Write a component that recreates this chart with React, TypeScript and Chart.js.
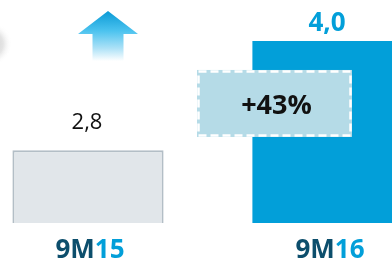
import React, { useEffect, useRef } from "react";
import { Chart, registerables } from "chart.js";

Chart.register(...registerables);

// ---- data ----
const categories = ["9M15", "9M16"];
const labelPrefix = ["9M", "9M"];
const labelSuffix = ["15", "16"];
const values = [2.8, 4.0];
const valueLabels = ["2,8", "4,0"];
const changeLabel = "+43%";
const yMin = 2;
const yMax = 4.45;

const DARK = "#0c4e6c";
const BLUE = "#029fd9";
const FONT = "'Open Sans', 'Liberation Sans', sans-serif";

const decorPlugin = {
  id: "decor",
  afterDatasetsDraw(chart: any) {
    const ctx: CanvasRenderingContext2D = chart.ctx;
    const meta = chart.getDatasetMeta(0);
    const b1 = meta.data[0];
    const b2 = meta.data[1];
    const cx1 = b1.x;
    const cx2 = b2.x;

    ctx.save();

    // faint circle edge at left
    const gx = cx1 - 98;
    const gy = 44;
    const g = ctx.createRadialGradient(gx, gy, 0, gx, gy, 22);
    g.addColorStop(0, "rgba(150,150,150,0.55)");
    g.addColorStop(0.6, "rgba(180,180,180,0.35)");
    g.addColorStop(1, "rgba(255,255,255,0)");
    ctx.fillStyle = g;
    ctx.beginPath();
    ctx.arc(gx, gy, 22, 0, Math.PI * 2);
    ctx.fill();

    // up arrow
    const ax = cx1 + 20;
    const tipY = 11;
    const headY = 34;
    const botY = 61;
    const ag = ctx.createLinearGradient(0, tipY, 0, botY);
    ag.addColorStop(0, "#0a9ad6");
    ag.addColorStop(0.4, "#4cc3ef");
    ag.addColorStop(0.75, "#aee2f7");
    ag.addColorStop(1, "#ffffff");
    ctx.fillStyle = ag;
    ctx.beginPath();
    ctx.moveTo(ax, tipY);
    ctx.lineTo(ax + 30, headY);
    ctx.lineTo(ax + 15.5, headY);
    ctx.lineTo(ax + 15.5, botY);
    ctx.lineTo(ax - 15.5, botY);
    ctx.lineTo(ax - 15.5, headY);
    ctx.lineTo(ax - 30, headY);
    ctx.closePath();
    ctx.fill();

    // value labels
    ctx.textAlign = "center";
    ctx.textBaseline = "alphabetic";
    ctx.fillStyle = "#111111";
    ctx.font = `400 22px ${FONT}`;
    ctx.fillText(valueLabels[0], cx1 - 1, b1.y - 21);
    ctx.fillStyle = BLUE;
    ctx.font = `700 26px ${FONT}`;
    ctx.fillText(valueLabels[1], cx2 - 1, b2.y - 10);

    // change box
    const bx0 = cx2 - 131;
    const bx1 = cx2 + 24;
    const by0 = b2.y + 29;
    const by1 = b2.y + 96;
    ctx.fillStyle = "#b5dbe7";
    ctx.fillRect(bx0, by0, bx1 - bx0, by1 - by0);
    ctx.strokeStyle = "#ffffff";
    ctx.lineWidth = 2.5;
    ctx.setLineDash([8, 4]);
    ctx.strokeRect(bx0 + 1.5, by0 + 1.5, bx1 - bx0 - 3, by1 - by0 - 3);
    ctx.setLineDash([]);
    ctx.fillStyle = "#111111";
    ctx.font = `700 27px ${FONT}`;
    ctx.textBaseline = "middle";
    ctx.fillText(changeLabel, (bx0 + bx1) / 2 + 2, (by0 + by1) / 2 + 3);

    // category labels (two-colour)
    ctx.textBaseline = "alphabetic";
    ctx.textAlign = "left";
    ctx.font = `700 26px ${FONT}`;
    const xs = [cx1 + 2, cx2 + 2];
    for (let i = 0; i < categories.length; i++) {
      const w1 = ctx.measureText(labelPrefix[i]).width;
      const w2 = ctx.measureText(labelSuffix[i]).width;
      const start = xs[i] - (w1 + w2) / 2;
      ctx.fillStyle = DARK;
      ctx.fillText(labelPrefix[i], start, 258);
      ctx.fillStyle = BLUE;
      ctx.fillText(labelSuffix[i], start + w1, 258);
    }

    ctx.restore();
  },
};

export default function App() {
  const ref = useRef<HTMLCanvasElement | null>(null);

  useEffect(() => {
    if (!ref.current) return;
    const chart = new Chart(ref.current, {
      type: "bar",
      data: {
        labels: categories,
        datasets: [
          {
            data: values,
            backgroundColor: ["#e1e6ea", BLUE],
            borderColor: ["#b3bec6", BLUE],
            borderWidth: [2, 0],
            borderSkipped: false,
            categoryPercentage: 1,
            barPercentage: 0.63,
          },
        ],
      },
      options: {
        responsive: false,
        animation: false,
        layout: { padding: { top: 0, bottom: 38, left: 0, right: 0 } },
        plugins: {
          legend: { display: false },
          tooltip: { enabled: false },
        },
        scales: {
          x: { display: false, offset: true },
          y: { display: false, min: yMin, max: yMax },
        },
      },
      plugins: [decorPlugin],
    });
    return () => chart.destroy();
  }, []);

  return (
    <div
      style={{
        position: "fixed",
        left: 0,
        top: 0,
        width: 392,
        height: 261,
        overflow: "hidden",
        background: "#ffffff",
      }}
    >
      <canvas
        ref={ref}
        width={480}
        height={261}
        style={{ position: "absolute", left: -32, top: 0, width: 480, height: 261 }}
      />
    </div>
  );
}
